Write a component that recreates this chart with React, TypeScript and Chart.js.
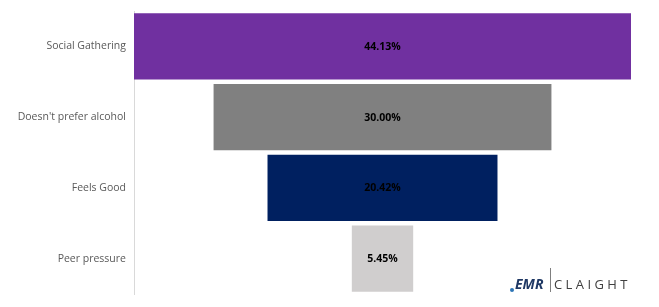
import React, { useEffect, useRef } from "react";
import { Chart, registerables } from "chart.js";

Chart.register(...registerables);

const categories = ["Social Gathering", "Doesn't prefer alcohol", "Feels Good", "Peer pressure"];
const values = [44.13, 30.0, 20.42, 5.45];
const valueLabels = ["44.13%", "30.00%", "20.42%", "5.45%"];
const colors = ["#7030A0", "#808080", "#002060", "#D0CECE"];

const maxValue = Math.max(...values);

const barLabelPlugin = {
  id: "barLabels",
  afterDatasetsDraw(chart: any) {
    const ctx = chart.ctx;
    const meta = chart.getDatasetMeta(0);
    ctx.save();
    ctx.font = "bold 10.5px 'Open Sans'";
    ctx.fillStyle = "#000000";
    ctx.textAlign = "center";
    ctx.textBaseline = "middle";
    meta.data.forEach((el: any, i: number) => {
      const cx = (el.x + el.base) / 2;
      ctx.fillText(valueLabels[i], cx, el.y + 0.5);
    });
    ctx.restore();
  },
};

const logoPlugin = {
  id: "logo",
  afterDraw(chart: any) {
    const ctx = chart.ctx;
    ctx.save();
    ctx.font = "italic bold 14px 'Open Sans'";
    ctx.fillStyle = "#1F3864";
    ctx.textAlign = "left";
    ctx.textBaseline = "alphabetic";
    ctx.fillText("EMR", 515, 289);
    ctx.fillStyle = "#2E75B6";
    ctx.beginPath();
    ctx.arc(512, 290, 2, 0, Math.PI * 2);
    ctx.fill();
    ctx.strokeStyle = "#7F7F7F";
    ctx.lineWidth = 1;
    ctx.beginPath();
    ctx.moveTo(550.5, 268);
    ctx.lineTo(550.5, 292);
    ctx.stroke();
    ctx.font = "13px 'Open Sans'";
    ctx.fillStyle = "#404040";
    const word = "CLAIGHT";
    let x = 554;
    for (const ch of word) {
      ctx.fillText(ch, x, 289);
      x += ctx.measureText(ch).width + 3.4;
    }
    ctx.restore();
  },
};

export default function App() {
  const ref = useRef<HTMLCanvasElement>(null);
  useEffect(() => {
    document.body.style.margin = "0";
    const chart = new Chart(ref.current!, {
      type: "bar",
      data: {
        labels: categories,
        datasets: [
          {
            data: values.map((v) => [(maxValue - v) / 2, (maxValue + v) / 2]) as any,
            backgroundColor: colors,
            borderWidth: 0,
            barPercentage: 0.935,
            categoryPercentage: 1,
          },
        ],
      },
      options: {
        indexAxis: "y",
        animation: false,
        responsive: false,
        maintainAspectRatio: false,
        layout: { padding: { top: 11, bottom: 13, right: 28, left: 0 } },
        plugins: { legend: { display: false }, tooltip: { enabled: false } },
        scales: {
          x: { display: false, min: 0, max: maxValue },
          y: {
            grid: { display: false, drawTicks: false },
            border: { display: true, color: "#D9D9D9", width: 1 },
            ticks: {
              color: "#595959",
              font: { family: "'Open Sans'", size: 10.5 },
              padding: 8,
            },
            afterFit(scale: any) {
              scale.width = 134;
              scale.paddingTop = 0;
              scale.paddingBottom = 0;
            },
          },
        },
      },
      plugins: [barLabelPlugin, logoPlugin],
    });
    return () => chart.destroy();
  }, []);
  return <canvas ref={ref} width={659} height={307} style={{ display: "block" }} />;
}
